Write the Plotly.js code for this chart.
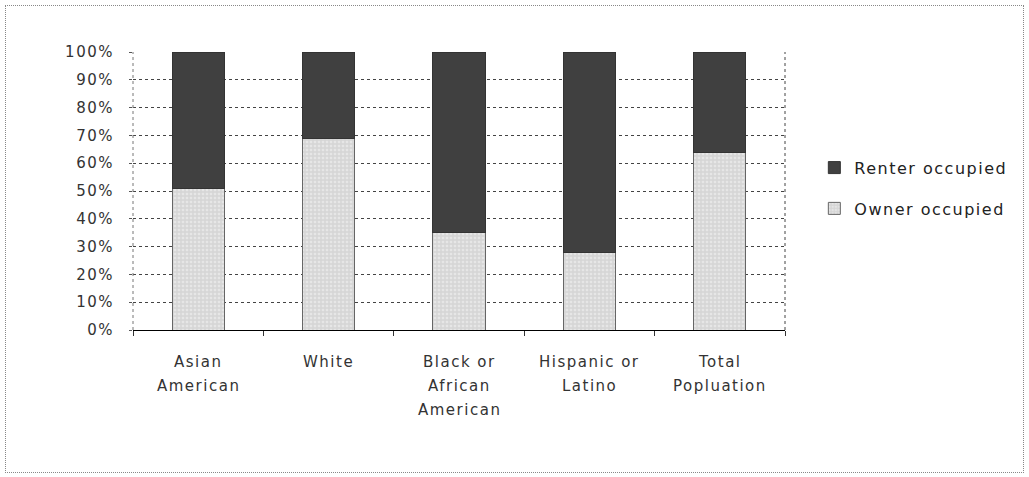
<!DOCTYPE html>
<html>
<head>
<meta charset="utf-8">
<script src="https://cdn.plot.ly/plotly-3.0.1.min.js"></script>
<style>
html,body{margin:0;padding:0;background:#fff;}
#wrap{position:relative;width:1029px;height:477px;}
#chart{width:1029px;height:477px;}
text{letter-spacing:1.5px;}
#frame{position:absolute;left:5px;top:5px;width:1019px;height:468px;border:1px dotted #888;pointer-events:none;box-sizing:border-box;}
</style>
</head>
<body>
<div id="wrap"><div id="chart"></div><div id="frame"></div></div>
<script>
const categories = ["Asian American", "White", "Black or African American", "Hispanic or Latino", "Total Popluation"];
const categoryLabelLines = [["Asian", "American"], ["White"], ["Black or", "African", "American"], ["Hispanic or", "Latino"], ["Total", "Popluation"]];
const ownerOccupied = [51, 69, 35, 28, 64];
const renterOccupied = [49, 31, 65, 72, 36];
const yTickVals = [0, 10, 20, 30, 40, 50, 60, 70, 80, 90, 100];
const yTickText = ["0%", "10%", "20%", "30%", "40%", "50%", "60%", "70%", "80%", "90%", "100%"];

const FAM = "DejaVu Sans, Verdana, sans-serif";
const font = {family: FAM, size: 15, color: "#333"};

const traces = [
  {
    type: "bar", name: "Owner occupied", x: categories, y: ownerOccupied,
    width: 0.4, legendgroup: "o", legendrank: 2,
    marker: {color: "#d6d6d6", line: {color: "#666", width: 1},
      pattern: {shape: ".", fgcolor: "#f6f6f6", size: 4, solidity: 0.35, fillmode: "overlay"}}
  },
  {
    type: "bar", name: "Renter occupied", x: categories, y: renterOccupied,
    width: 0.4, legendgroup: "r", legendrank: 1,
    marker: {color: "#404040", line: {color: "#333", width: 1}}
  }
];

const annotations = [];
categories.forEach((c, i) => {
  categoryLabelLines[i].forEach((line, j) => {
    annotations.push({
      x: c, xref: "x", y: 0, yref: "paper",
      yanchor: "middle", xanchor: "center",
      yshift: -(32 + 24 * j),
      text: line, showarrow: false,
      font: font
    });
  });
});

const layout = {
  width: 1029, height: 477,
  margin: {l: 133, r: 244, t: 52, b: 147, autoexpand: false},
  paper_bgcolor: "#fff", plot_bgcolor: "#fff",
  barmode: "stack",
  font: font,
  showlegend: true,
  legend: {x: 1.045, y: 0.645, xanchor: "left", yanchor: "top",
    traceorder: "grouped", tracegroupgap: 17, itemwidth: 30,
    font: {family: FAM, size: 16, color: "#222"}},
  xaxis: {
    type: "category", showgrid: false, tickson: "boundaries",
    ticks: "outside", ticklen: 5, tickcolor: "#333",
    showline: true, linecolor: "#000", linewidth: 1,
    showticklabels: false, automargin: false
  },
  yaxis: {
    range: [0, 100], tickvals: yTickVals, ticktext: yTickText,
    showgrid: true, gridcolor: "#444", griddash: "dot", gridwidth: 1,
    ticks: "outside", ticklen: 3, tickcolor: "#555",
    ticklabelstandoff: 12,
    showline: false, zeroline: false,
    tickfont: font, automargin: false
  },
  annotations: annotations,
  shapes: [
    {type: "line", xref: "paper", yref: "paper", x0: 0, x1: 0, y0: 0, y1: 1, line: {color: "#777", width: 1, dash: "dot"}},
    {type: "line", xref: "paper", yref: "paper", x0: 1, x1: 1, y0: 0, y1: 1, line: {color: "#444", width: 1, dash: "dot"}}
  ]
};

Plotly.newPlot("chart", traces, layout, {displayModeBar: false, staticPlot: true});
</script>
</body>
</html>
